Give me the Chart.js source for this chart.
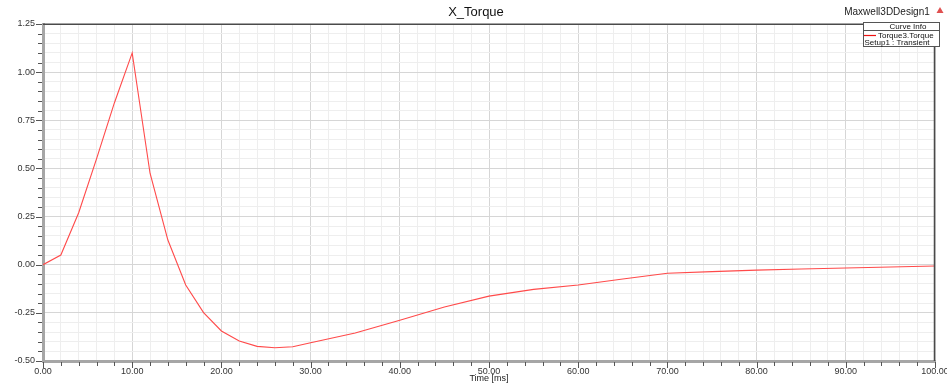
<!DOCTYPE html>
<html>
<head>
<meta charset="utf-8">
<script src="https://cdn.jsdelivr.net/npm/chart.js@4/dist/chart.umd.min.js"></script>
<style>
html,body{margin:0;padding:0;background:#fff;}
#c{display:block;}
</style>
</head>
<body>
<canvas id="c" width="947" height="385"></canvas>
<script>
const timeMs = [0,2,4,6,8,10,12,14,16,18,20,22,24,26,28,30,35,40,45,50,55,60,65,70,75,80,85,90,95,100];
const torque = [0,0.05,0.27,0.55,0.84,1.10,0.475,0.128,-0.105,-0.249,-0.344,-0.396,-0.424,-0.431,-0.426,-0.405,-0.355,-0.288,-0.22,-0.163,-0.128,-0.105,-0.074,-0.044,-0.036,-0.028,-0.022,-0.017,-0.012,-0.007];
const xTickValues = [0,2,4,6,8,10,12,14,16,18,20,22,24,26,28,30,32,34,36,38,40,42,44,46,48,50,52,54,56,58,60,62,64,66,68,70,72,74,76,78,80,82,84,86,88,90,92,94,96,98,100];
const yTickValues = [-0.5,-0.45,-0.4,-0.35,-0.3,-0.25,-0.2,-0.15,-0.1,-0.05,0,0.05,0.1,0.15,0.2,0.25,0.3,0.35,0.4,0.45,0.5,0.55,0.6,0.65,0.7,0.75,0.8,0.85,0.9,0.95,1.0,1.05,1.1,1.15,1.2,1.25];
const chartTitle = 'X_Torque';
const designName = 'Maxwell3DDesign1';
const xAxisTitle = 'Time [ms]';
const legendHeader = 'Curve Info';
const seriesName = 'Torque3.Torque';
const seriesSub = 'Setup1 : Transient';

const FONT = '"Liberation Sans", Arial, sans-serif';
const isMajorX = v => Math.abs(v % 10) < 1e-6;
const isMajorY = v => Math.abs(v * 4 - Math.round(v * 4)) < 1e-6;

const deco = {
  id: 'deco',
  afterDraw(chart) {
    const ctx = chart.ctx;
    const a = chart.chartArea;
    const xs = chart.scales.x, ys = chart.scales.y;
    ctx.save();
    // tick marks
    ctx.strokeStyle = '#555';
    ctx.lineWidth = 1;
    ctx.beginPath();
    xTickValues.forEach(v => {
      const px = Math.round(xs.getPixelForValue(v)) + 0.5;
      const len = isMajorX(v) ? 6 : 4;
      ctx.moveTo(px, a.bottom + 1);
      ctx.lineTo(px, a.bottom + 1 + len);
    });
    yTickValues.forEach(v => {
      const py = Math.round(ys.getPixelForValue(v)) + 0.5;
      const len = isMajorY(v) ? 6 : 4;
      ctx.moveTo(a.left - 1, py);
      ctx.lineTo(a.left - 1 - len, py);
    });
    ctx.stroke();
    // top & right border
    ctx.strokeStyle = '#4a4a4a';
    ctx.lineWidth = 1.5;
    ctx.beginPath();
    ctx.moveTo(a.left, a.top + 0.25);
    ctx.lineTo(863, a.top + 0.25);
    ctx.moveTo(a.right - 0.5, 47);
    ctx.lineTo(a.right - 0.5, a.bottom);
    ctx.stroke();
    // title
    ctx.fillStyle = '#111';
    ctx.textBaseline = 'middle';
    ctx.textAlign = 'center';
    ctx.font = '13px ' + FONT;
    ctx.fillText(chartTitle, 476, 12);
    // design name
    ctx.font = '10px ' + FONT;
    ctx.fillStyle = '#222';
    ctx.fillText(designName, 887, 12);
    // red triangle
    ctx.fillStyle = '#e05050';
    ctx.beginPath();
    ctx.moveTo(940, 7);
    ctx.lineTo(943.5, 13);
    ctx.lineTo(936.5, 13);
    ctx.closePath();
    ctx.fill();
    // legend box
    ctx.fillStyle = '#fff';
    ctx.fillRect(863, 22, 77, 25);
    ctx.strokeStyle = '#555';
    ctx.lineWidth = 1;
    ctx.strokeRect(863.5, 22.5, 76, 24);
    ctx.beginPath();
    ctx.moveTo(863.5, 30.5);
    ctx.lineTo(939.5, 30.5);
    ctx.stroke();
    ctx.font = '8px ' + FONT;
    ctx.fillStyle = '#111';
    ctx.textAlign = 'center';
    ctx.fillText(legendHeader, 908, 26.5);
    ctx.strokeStyle = '#ee1111';
    ctx.lineWidth = 1.2;
    ctx.beginPath();
    ctx.moveTo(864, 35.5);
    ctx.lineTo(876, 35.5);
    ctx.stroke();
    ctx.textAlign = 'left';
    ctx.fillText(seriesName, 878, 35.5);
    ctx.fillText(seriesSub, 864.5, 42.5);
    ctx.restore();
  }
};

new Chart(document.getElementById('c'), {
  type: 'line',
  data: {
    datasets: [{
      data: timeMs.map((t, i) => ({x: t, y: torque[i]})),
      borderColor: '#ff4a4a',
      borderWidth: 1.1,
      pointRadius: 0,
      tension: 0,
      fill: false
    }]
  },
  options: {
    responsive: false,
    animation: false,
    devicePixelRatio: 1,
    layout: {padding: {left: 0, right: 12, top: 24, bottom: 0}},
    plugins: {legend: {display: false}, tooltip: {enabled: false}, title: {display: false}},
    scales: {
      x: {
        type: 'linear',
        min: 0, max: 100,
        afterBuildTicks: s => { s.ticks = xTickValues.map(v => ({value: v})); },
        afterFit: s => { s.height = 24; s.paddingLeft = 0; s.paddingRight = 0; },
        grid: {
          drawTicks: false,
          color: c => (c.tick && isMajorX(c.tick.value)) ? '#d6d6d6' : '#eeeeee',
          lineWidth: 1
        },
        border: {display: true, color: '#a6a6a6', width: 3},
        ticks: {
          autoSkip: false, maxRotation: 0, minRotation: 0, padding: 5,
          color: '#333', font: {family: FONT, size: 9},
          callback: v => isMajorX(v) ? v.toFixed(2) : ''
        },
        title: {display: true, text: xAxisTitle, color: '#222', font: {family: FONT, size: 9}, padding: {top: 0, bottom: 1}}
      },
      y: {
        type: 'linear',
        min: -0.5, max: 1.25,
        afterBuildTicks: s => { s.ticks = yTickValues.map(v => ({value: v})); },
        afterFit: s => { s.width = 43; s.paddingTop = 0; s.paddingBottom = 0; },
        grid: {
          drawTicks: false,
          color: c => (c.tick && isMajorY(c.tick.value)) ? '#d6d6d6' : '#eeeeee',
          lineWidth: 1
        },
        border: {display: true, color: '#a6a6a6', width: 3},
        ticks: {
          autoSkip: false, padding: 8,
          color: '#333', font: {family: FONT, size: 9},
          callback: v => isMajorY(v) ? v.toFixed(2) : ''
        }
      }
    }
  },
  plugins: [deco]
});
</script>
</body>
</html>
